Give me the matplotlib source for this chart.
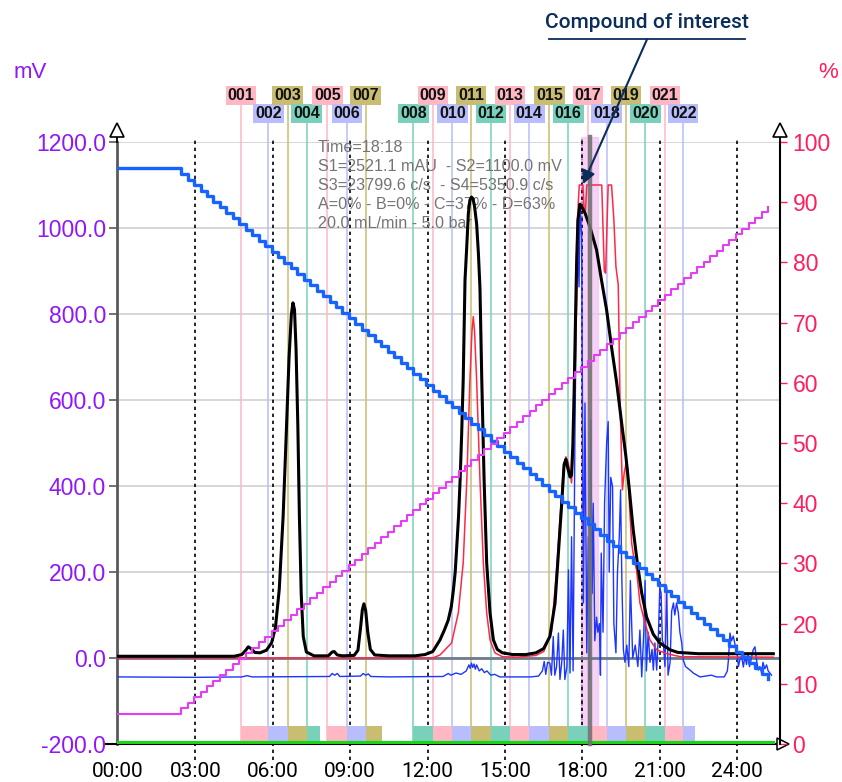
import numpy as np
import matplotlib
matplotlib.use("Agg")
import matplotlib.pyplot as plt

# ---- data ----
time_ticks = [0, 3, 6, 9, 12, 15, 18, 21, 24]
time_labels = ['00:00', '03:00', '06:00', '09:00', '12:00', '15:00', '18:00', '21:00', '24:00']
mv_ticks = [-200, 0, 200, 400, 600, 800, 1000, 1200]
pct_ticks = [0, 10, 20, 30, 40, 50, 60, 70, 80, 90, 100]

frac_labels = ['001', '002', '003', '004', '005', '006', '007', '008', '009', '010', '011',
               '012', '013', '014', '015', '016', '017', '018', '019', '020', '021', '022']
frac_start = [4.77, 5.83, 6.58, 7.31, 8.11, 8.88, 9.60, 11.45, 12.20, 12.96, 13.68,
              14.45, 15.19, 15.94, 16.72, 17.45, 18.21, 18.94, 19.69, 20.44, 21.20, 21.91]
frac_end = [5.83, 6.58, 7.31, 7.81, 8.88, 9.60, 10.23, 12.20, 12.96, 13.68, 14.45,
            15.19, 15.94, 16.72, 17.45, 18.21, 18.94, 19.69, 20.44, 21.20, 21.91, 22.38]

# S1 (black)
s1_t = [0.0, 4.5, 4.8, 4.95, 5.05, 5.15, 5.3, 5.5, 5.75, 5.95, 6.1, 6.25, 6.4, 6.52, 6.63,
        6.72, 6.78, 6.84, 6.9, 6.97, 7.03, 7.1, 7.18, 7.3, 7.6, 8.15, 8.3, 8.38, 8.5, 8.7,
        9.15, 9.3, 9.4, 9.47, 9.53, 9.6, 9.68, 9.78, 9.95, 10.5, 11.5, 11.9, 12.2, 12.48,
        12.65, 12.8, 12.92, 13.0, 13.07, 13.13, 13.2, 13.26, 13.32, 13.38, 13.45, 13.52,
        13.58, 13.64, 13.7, 13.76, 13.82, 13.9, 13.97, 14.03, 14.1, 14.19, 14.29, 14.42,
        14.55, 14.7, 14.9, 15.3, 15.8, 16.2, 16.5, 16.74, 16.94, 17.07, 17.2, 17.29, 17.36,
        17.44, 17.52, 17.58, 17.63, 17.68, 17.73, 17.78, 17.83, 17.9, 17.97, 18.1, 18.29,
        18.55, 18.74, 18.94, 19.13, 19.33, 19.52, 19.69, 19.82, 19.97, 20.13, 20.3, 20.49,
        20.75, 21.0, 21.4, 21.7, 22.5, 25.4]
s1_mv = [4, 4, 8, 18, 26, 22, 13, 12, 18, 35, 70, 160, 330, 520, 700,
         800, 826, 810, 720, 540, 330, 150, 50, 14, 5, 5, 14, 15, 7, 5,
         6, 18, 70, 112, 126, 110, 60, 20, 7, 5, 5, 8, 15, 42,
         65, 88, 120, 158, 200, 259, 330, 414, 520, 647, 879, 960,
         1034, 1065, 1072, 1068, 1050, 1010, 940, 860, 647, 414, 221, 105,
         42, 20, 12, 8, 8, 12, 22, 50, 128, 244, 360, 450, 462,
         440, 421, 425, 495, 620, 780, 930, 1020, 1055, 1050, 1035, 1003,
         949, 879, 809, 723, 640, 547, 467, 391, 298, 221, 151, 95,
         55, 35, 19, 13, 10, 10]

# S2 (red, saturates at 1100 mV)
s2_t = [0.0, 2.3, 2.42, 2.55, 12.2, 12.48, 12.93, 13.19, 13.38, 13.52, 13.64, 13.72, 13.77,
        13.82, 13.9, 14.03, 14.16, 14.29, 14.42, 14.61, 14.9, 15.5, 16.2, 16.5, 16.8, 17.0,
        17.15, 17.26, 17.36, 17.45, 17.52, 17.58, 17.64, 17.7, 17.78, 17.84, 17.88, 18.02,
        18.07, 18.12, 18.17, 18.75, 18.8, 18.85, 18.9, 18.95, 19.0, 19.13, 19.22, 19.3,
        19.39, 19.46, 19.55, 19.62, 19.7, 19.76, 19.82, 19.91, 20.0, 20.1, 20.23, 20.43,
        20.62, 20.88, 21.27, 21.8, 25.4]
s2_mv = [0, 0, 5, 0, 0, 7, 35, 105, 221, 414, 647, 760, 794,
         760, 647, 414, 221, 105, 42, 12, 3, 2, 6, 15, 60, 205,
         340, 437, 468, 455, 430, 407, 480, 640, 826, 1058, 1100, 1100,
         1040, 1040, 1100, 1100, 1000, 900, 895, 1000, 1100, 1100, 1019, 910,
         868, 593, 391, 430, 455, 440, 360, 267, 230, 205, 128, 81,
         42, 19, 10, 3, 2]

# S3 (thin blue)
s3_t = [0.0, 3.0, 4.8, 5.0, 5.2, 8.2, 8.3, 8.4, 8.5, 8.6, 9.4, 9.5, 9.6, 9.7, 9.8, 10.5,
        12.6, 12.8, 12.9, 13.1, 13.3, 13.5, 13.6, 13.65, 13.7, 13.75, 13.8, 13.85, 13.9,
        14.0, 14.1, 14.2, 14.3, 14.45, 14.6, 14.8, 16.0, 16.3, 16.45, 16.52, 16.58, 16.65,
        16.74, 16.8, 16.87, 16.93, 17.0, 17.07, 17.13, 17.2, 17.26, 17.32, 17.4, 17.46,
        17.52, 17.58, 17.64, 17.71, 17.75, 17.8, 17.87, 17.91, 17.97, 18.0, 18.04, 18.1,
        18.17, 18.23, 18.28, 18.32, 18.38, 18.42, 18.48, 18.55, 18.6, 18.66, 18.7, 18.73,
        18.8, 18.86, 18.94, 19.0, 19.04, 19.1, 19.17, 19.22, 19.3, 19.36, 19.43, 19.48,
        19.53, 19.59, 19.65, 19.72, 19.8, 19.86, 19.95, 20.05, 20.15, 20.23, 20.3, 20.38,
        20.43, 20.48, 20.55, 20.62, 20.7, 20.75, 20.81, 20.88, 20.95, 21.0, 21.05, 21.1,
        21.14, 21.2, 21.27, 21.32, 21.4, 21.46, 21.53, 21.58, 21.65, 21.72, 21.78, 21.85,
        21.91, 22.0, 22.17, 22.3, 22.56, 23.0, 23.2, 23.5, 23.62, 23.66, 23.72, 23.78,
        23.85, 23.92, 23.98, 24.05, 24.1, 24.17, 24.24, 24.3, 24.36, 24.42, 24.48, 24.55,
        24.62, 24.69, 24.75, 24.82, 24.88, 24.95, 25.0, 25.07, 25.14, 25.2, 25.27, 25.33]
s3_mv = [-44, -45, -44, -41, -44, -43, -36, -40, -36, -43, -42, -36, -40, -37, -43, -44,
         -43, -36, -40, -35, -38, -30, -16, -24, -12, -22, -14, -26, -16,
         -30, -25, -34, -30, -40, -38, -44, -44, -42, -30, -8, -38, -10,
         -12, -40, 50, -40, -20, 58, -50, -10, 65, -50, -20, 205,
         -35, 282, -30, 514, 747, 1019, 863, 1058, 979, 600, 128, 593,
         12, 282, -50, 554, 150, 360, 40, 95, 60, 80, -40, 244,
         60, 360, 500, 550, 200, 420, 398, 80, 12, 200, 282, 391,
         180, 19, -10, 30, -20, 180, 0, 30, -20, 65, -44, 60,
         180, -30, 60, -10, 20, -28, 35, -28, 60, 165, 151, 40,
         35, -20, 165, -40, -10, 109, 128, 100, 128, 105, 60, 35,
         -5, -20, -28, -35, -44, -40, -44, -44, -30, -5, 58, 40,
         51, 30, 19, -20, -5, 5, -21, 5, -15, 10, -20, 0,
         19, 26, -5, -28, -20, -35, -10, -25, -16, -30, -35, -40]

# S4 (green, flat at the bottom of the range)
s4_t = [0.0, 25.4]
s4_mv = [-197, -197]

# gradient program (% of solvents C and D)
grad_t = [0.0, 2.2, 25.4]
grad_c = [95.6, 95.6, 10.0]
grad_d = [5.0, 5.0, 90.0]
grad_step = 0.25   # display resolution of the pump trace

info_lines = ['Time=18:18',
              'S1=2521.1 mAU  - S2=1100.0 mV',
              'S3=23799.6 c/s  - S4=5350.9 c/s',
              'A=0% - B=0% - C=37% - D=63%',
              '20.0 mL/min - 5.0 bar']

# ---- styling ----
purple = '#9116fa'
redpink = '#ff1f5e'
frac_colors = ['#ffb7c3', '#b7bdfd', '#c9bd72', '#79d1bc']
navy = '#0b2d5b'

fig = plt.figure(figsize=(8.42, 7.82), dpi=100)
ax = fig.add_axes([117 / 842, 38 / 782, 663 / 842, 602 / 782])
ax.set_xlim(-0.04, 25.66)
ax.set_ylim(-200, 1200)

# grid
for v in mv_ticks[1:]:
    ax.axhline(v, color='#d0d0d0', lw=1.2, zorder=0.5)
ax.axhline(0, color='#6e7b8c', lw=2, zorder=2)
for t in time_ticks[1:]:
    ax.axvline(t, ymin=-0.027, ymax=1.009, color='black', lw=1.2,
               ls=(0, (2, 2.2)), zorder=1.5, clip_on=False)

# fractions: marker lines, labels and bottom boxes
for i, (lab, t0, t1) in enumerate(zip(frac_labels, frac_start, frac_end)):
    c = frac_colors[i % 4]
    ylab = 1309 if i % 2 == 0 else 1267
    ax.plot([t0, t0], [ylab - 18, -200], color=c, lw=1.1, zorder=1, clip_on=False)
    ax.text(t0, ylab, lab, ha='center', va='center', fontsize=11.5, fontweight='bold',
            family='Liberation Sans', color='#111111', zorder=7, clip_on=False,
            bbox=dict(boxstyle='square,pad=0.12', fc=c, ec='none'))
ax.bar(frac_start, 38, width=np.array(frac_end) - np.array(frac_start), bottom=-196,
       align='edge', color=[frac_colors[i % 4] for i in range(len(frac_start))],
       zorder=2)

# selected fraction / cursor
ax.axvspan(17.93, 18.6, ymax=1.008, color='#f2c4f4', alpha=0.75, zorder=1.2, clip_on=False)
ax.axvline(17.98, ymax=1.008, color='#b070c8', lw=1.3, ls=':', zorder=1.3, clip_on=False)

# signals
ax.plot(s4_t, s4_mv, color='#19d419', lw=3, zorder=3)
ax.plot(s3_t, s3_mv, color='#1c35ff', lw=1, zorder=3)
ax.plot(s2_t, s2_mv, color='#ff2846', lw=1.1, zorder=4)
ax.plot(s1_t, s1_mv, color='black', lw=2.2, zorder=5)
ax.axvline(18.3, ymax=1.008, color='#727272', lw=3.2, alpha=0.9, zorder=6, clip_on=False)

# info box
for k, line in enumerate(info_lines):
    ax.text(7.75, 1188 - k * 44.2, line, ha='left', va='center', fontsize=11.6,
            family='Liberation Sans', color='#747474', zorder=4.5)

# axes styling
ax.spines['top'].set_visible(False)
ax.spines['left'].set_color('#5a5a5a')
ax.spines['left'].set_linewidth(2)
ax.spines['bottom'].set_color('black')
ax.spines['bottom'].set_linewidth(1.5)
ax.spines['right'].set_visible(False)

ax.set_xticks(time_ticks)
ax.set_xticklabels(time_labels, fontsize=15, family='Roboto')
ax.tick_params(axis='x', length=0, pad=13)
ax.set_yticks(mv_ticks)
ax.set_yticklabels([f'{v:.1f}' for v in mv_ticks], fontsize=16.5, family='Liberation Sans',
                   color=purple)
ax.tick_params(axis='y', length=6, width=1.2, color='#5a5a5a', pad=2)

# gradient on the % axis
ax2 = ax.twinx()
ax2.set_ylim(0, 100)
ax2.patch.set_visible(False)
step_t = np.arange(grad_t[1], grad_t[-1] + 1e-9, grad_step)
step_t = np.concatenate([[grad_t[0]], step_t])
ax2.plot(step_t, np.interp(step_t, grad_t, grad_c), drawstyle='steps-post',
         color='#1763ff', lw=2.4, zorder=3)
ax2.plot(step_t, np.interp(step_t, grad_t, grad_d), drawstyle='steps-post',
         color='#e53cf5', lw=1.5, zorder=3)
for s in ['top', 'left', 'bottom']:
    ax2.spines[s].set_visible(False)
ax2.spines['right'].set_color('black')
ax2.spines['right'].set_linewidth(1.5)
ax2.set_yticks(pct_ticks)
ax2.set_yticklabels([str(v) for v in pct_ticks], fontsize=16.5, family='Liberation Sans',
                    color=redpink)
ax2.tick_params(axis='y', length=5, width=1, color=redpink, pad=4)

# axis arrows
for xa in (0.0, 1.0):
    ax.plot([xa, xa], [1.0, 1.012], transform=ax.transAxes, color='black', lw=1.3,
            clip_on=False, zorder=8)
    ax.plot([xa], [1.02], transform=ax.transAxes, marker='^', ms=10, mfc='white',
            mec='black', mew=1.2, clip_on=False, zorder=8)
ax.plot([1.004], [0.0], transform=ax.transAxes, marker='>', ms=8, mfc='white',
        mec='black', mew=1.1, clip_on=False, zorder=8)
ax.plot([-0.016, 0.0], [0.0, 0.0], transform=ax.transAxes, color='black', lw=1.5,
        clip_on=False)

# axis unit labels
fig.text(30 / 842, 1 - 72 / 782, 'mV', ha='center', va='center', fontsize=16,
         family='Liberation Sans', color=purple)
fig.text(828 / 842, 1 - 72 / 782, '%', ha='center', va='center', fontsize=16,
         family='Liberation Sans', color=redpink)

# annotation
ax.text(20.5, 1479, 'Compound of interest', ha='center', va='center', fontsize=15,
        family='Roboto', fontweight='medium', color=navy, clip_on=False)
ax.plot([16.7, 24.3], [1440, 1440], color=navy, lw=1.3, clip_on=False)
ax.annotate('', xy=(18.02, 1102), xytext=(20.5, 1438), annotation_clip=False,
            arrowprops=dict(arrowstyle='-|>', color=navy, lw=1.5, mutation_scale=20,
                            shrinkA=0, shrinkB=0), zorder=9)

fig.savefig('out.png', dpi=100)
